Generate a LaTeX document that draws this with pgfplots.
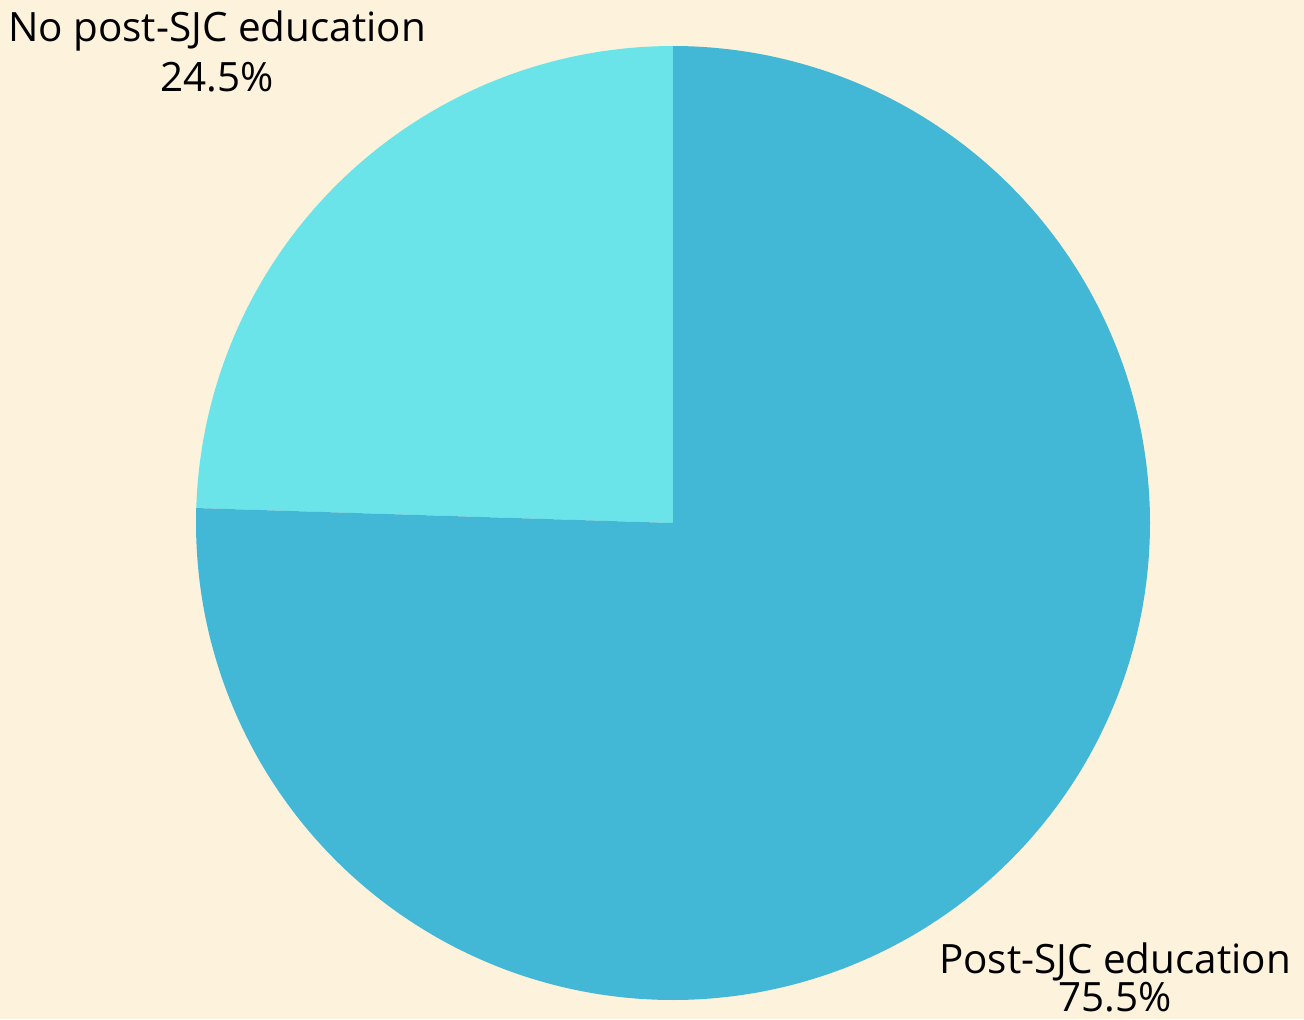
\documentclass[border=0pt]{standalone}
\usepackage{pgfplots}
\usepackage{pgfplotstable}
\usepackage{fontspec}
\setmainfont{Open Sans}
\pgfplotsset{compat=1.18}
\definecolor{bgc}{RGB}{253,242,220}
\definecolor{bigc}{RGB}{66,183,214}
\definecolor{smallc}{RGB}{106,228,232}
\pgfplotstableread{
label value
No 24.5
Post 75.5
}\piedata
\pgfplotstablegetelem{0}{value}\of\piedata
\let\vsmall\pgfplotsretval
\pgfplotstablegetelem{1}{value}\of\piedata
\let\vbig\pgfplotsretval
\begin{document}
\begin{tikzpicture}
\begin{axis}[
  width=652pt, height=509.5pt, scale only axis,
  xmin=0, xmax=1304, ymin=0, ymax=1019,
  hide axis, clip=false,
  /pgf/number format/assume math mode=true,
]
\fill[bgc] (axis cs:0,0) rectangle (axis cs:1304,1019);
\pgfmathsetmacro{\aend}{90+3.6*\vsmall}
\pgfmathsetmacro{\bend}{\aend+3.6*\vbig}
\addplot[draw=none, fill=smallc, domain=90:\aend, samples=120]
  ({673+477*cos(x)},{496+477*sin(x)}) -- (axis cs:673,496) -- cycle;
\addplot[draw=none, fill=bigc, domain=\aend:\bend, samples=300]
  ({673+477*cos(x)},{496+477*sin(x)}) -- (axis cs:673,496) -- cycle;
\node[anchor=base, font=\fontsize{20.2}{24}\selectfont] at (axis cs:217,977) {No post-SJC education};
\node[anchor=base, font=\fontsize{20.2}{24}\selectfont] at (axis cs:217,927) {\pgfmathprintnumber[fixed,precision=1,fixed zerofill,assume math mode=true]{\vsmall}\%};
\node[anchor=base, font=\fontsize{20.2}{24}\selectfont] at (axis cs:1115,46) {Post-SJC education};
\node[anchor=base, font=\fontsize{20.2}{24}\selectfont] at (axis cs:1115,8) {\pgfmathprintnumber[fixed,precision=1,fixed zerofill,assume math mode=true]{\vbig}\%};
\end{axis}
\pgfresetboundingbox
\useasboundingbox (0,0) rectangle (652pt,509.5pt);
\end{tikzpicture}
\end{document}
